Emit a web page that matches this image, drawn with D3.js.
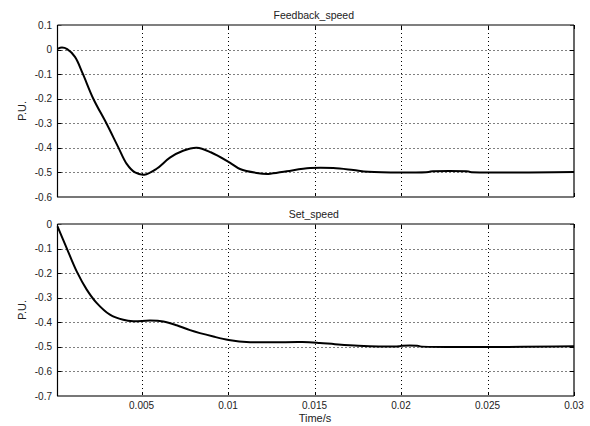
<!DOCTYPE html>
<html>
<head>
<meta charset="utf-8">
<script src="https://cdn.jsdelivr.net/npm/d3@7"></script>
<style>
  body { margin: 0; background: #fff; }
  text { font-family: "Liberation Sans", Arial, sans-serif; }
</style>
</head>
<body>
<div id="chart"></div>
<script>
// time axis ticks (shared)
var xTicks = [0.005, 0.01, 0.015, 0.02, 0.025, 0.03];
var xTickLabels = ["0.005", "0.01", "0.015", "0.02", "0.025", "0.03"];

// Feedback_speed
var feedbackT = [0.00014, 0.0004, 0.0007, 0.00115, 0.0016, 0.00221, 0.00298, 0.00365, 0.00414, 0.00462, 0.00516, 0.00587, 0.00664, 0.0074, 0.00819, 0.009, 0.0101, 0.01069, 0.01165, 0.01233, 0.01339, 0.01474, 0.01608, 0.01724, 0.01811, 0.0216, 0.0217, 0.0239, 0.024, 0.03];
var feedbackV = [0.003, 0.008, 0.002, -0.03, -0.098, -0.2, -0.302, -0.397, -0.465, -0.5, -0.509, -0.485, -0.44, -0.412, -0.4, -0.418, -0.46, -0.486, -0.502, -0.506, -0.495, -0.482, -0.482, -0.49, -0.497, -0.498, -0.496, -0.496, -0.498, -0.498];
var feedbackYTicks = [0.1, 0, -0.1, -0.2, -0.3, -0.4, -0.5, -0.6];

// Set_speed
var setT = [0.00014, 0.00067, 0.00125, 0.00183, 0.0024, 0.00317, 0.00394, 0.00452, 0.0055, 0.00626, 0.00703, 0.0078, 0.00915, 0.01004, 0.01127, 0.0143, 0.01531, 0.01618, 0.01753, 0.0199, 0.02, 0.021, 0.0211, 0.03];
var setV = [-0.01, -0.098, -0.193, -0.267, -0.321, -0.369, -0.39, -0.396, -0.393, -0.397, -0.412, -0.432, -0.458, -0.472, -0.481, -0.48, -0.484, -0.489, -0.495, -0.498, -0.496, -0.496, -0.498, -0.498];
var setYTicks = [0, -0.1, -0.2, -0.3, -0.4, -0.5, -0.6, -0.7];

var W = 590, H = 426;
var svg = d3.select("#chart").append("svg").attr("width", W).attr("height", H);

var x = d3.scaleLinear().domain([0.00014, 0.03]).range([57.5, 574]);

function drawPanel(opts) {
  var y = d3.scaleLinear().domain(opts.yDomain).range([opts.bottom, opts.top]);
  var g = svg.append("g");
  var x0 = x.range()[0], x1 = x.range()[1];

  // grid
  opts.yTicks.forEach(function (v) {
    if (v == opts.yDomain[0] || v == opts.yDomain[1]) return;
    g.append("line").attr("x1", x0).attr("x2", x1)
      .attr("y1", Math.round(y(v)) + 0.5).attr("y2", Math.round(y(v)) + 0.5)
      .attr("stroke", "#000").attr("stroke-width", 1).attr("stroke-dasharray", "1,3");
  });
  xTicks.forEach(function (t) {
    if (t == 0.03) return;
    g.append("line").attr("y1", opts.top).attr("y2", opts.bottom)
      .attr("x1", Math.round(x(t)) + 0.5).attr("x2", Math.round(x(t)) + 0.5)
      .attr("stroke", "#000").attr("stroke-width", 1).attr("stroke-dasharray", "1,3");
  });

  // inner ticks
  opts.yTicks.forEach(function (v) {
    var yy = Math.round(y(v)) + 0.5;
    g.append("line").attr("x1", x0).attr("x2", x0 + 4).attr("y1", yy).attr("y2", yy).attr("stroke", "#000");
    g.append("line").attr("x1", x1 - 4).attr("x2", x1).attr("y1", yy).attr("y2", yy).attr("stroke", "#000");
  });
  xTicks.forEach(function (t) {
    var xx = Math.round(x(t)) + 0.5;
    g.append("line").attr("x1", xx).attr("x2", xx).attr("y1", opts.top).attr("y2", opts.top + 4).attr("stroke", "#000");
    g.append("line").attr("x1", xx).attr("x2", xx).attr("y1", opts.bottom - 4).attr("y2", opts.bottom).attr("stroke", "#000");
  });

  // frame
  g.append("line").attr("x1", x0).attr("x2", x1).attr("y1", opts.top).attr("y2", opts.top).attr("stroke", "#555").attr("stroke-width", 1.5);
  g.append("line").attr("x1", x0).attr("x2", x1).attr("y1", opts.bottom).attr("y2", opts.bottom).attr("stroke", "#777").attr("stroke-width", 2);
  g.append("line").attr("x1", x0).attr("x2", x0).attr("y1", opts.top).attr("y2", opts.bottom).attr("stroke", "#000").attr("stroke-width", 1.2);
  g.append("line").attr("x1", x1).attr("x2", x1).attr("y1", opts.top).attr("y2", opts.bottom).attr("stroke", "#000").attr("stroke-width", 1.2);

  // y labels
  opts.yTicks.forEach(function (v) {
    g.append("text").attr("x", 52).attr("y", y(v)).attr("dy", "0.35em")
      .attr("text-anchor", "end").style("font-size", "10px").style("fill", "#222")
      .text(String(v));
  });

  // curve
  var data = opts.t.map(function (t, i) { return [t, opts.v[i]]; });
  var line = d3.line()
    .x(function (d) { return x(d[0]); })
    .y(function (d) { return y(d[1]); })
    .curve(d3.curveCatmullRom.alpha(0.5));
  g.append("path").datum(data).attr("d", line)
    .attr("fill", "none").attr("stroke", "#000").attr("stroke-width", 2);

  // title
  g.append("text").attr("x", (x0 + x1) / 2 - 2).attr("y", opts.top - 6)
    .attr("text-anchor", "middle").style("font-size", "10.5px").style("fill", "#222")
    .text(opts.title);

  // y axis label
  g.append("text").attr("transform", "translate(26," + (opts.top + opts.bottom) / 2 + ") rotate(-90)")
    .attr("text-anchor", "middle").style("font-size", "11px").style("fill", "#222")
    .text("P.U.");

  return y;
}

drawPanel({ top: 25, bottom: 197, yDomain: [-0.6, 0.1], yTicks: feedbackYTicks,
  t: feedbackT, v: feedbackV, title: "Feedback_speed" });
drawPanel({ top: 224, bottom: 396, yDomain: [-0.7, 0], yTicks: setYTicks,
  t: setT, v: setV, title: "Set_speed" });

// bottom x tick labels
xTicks.forEach(function (t, i) {
  svg.append("text").attr("x", x(t)).attr("y", 409)
    .attr("text-anchor", "middle").style("font-size", "10px").style("fill", "#222")
    .text(xTickLabels[i]);
});
svg.append("text").attr("x", 315).attr("y", 422)
  .attr("text-anchor", "middle").style("font-size", "11px").style("fill", "#222")
  .text("Time/s");
</script>
</body>
</html>
